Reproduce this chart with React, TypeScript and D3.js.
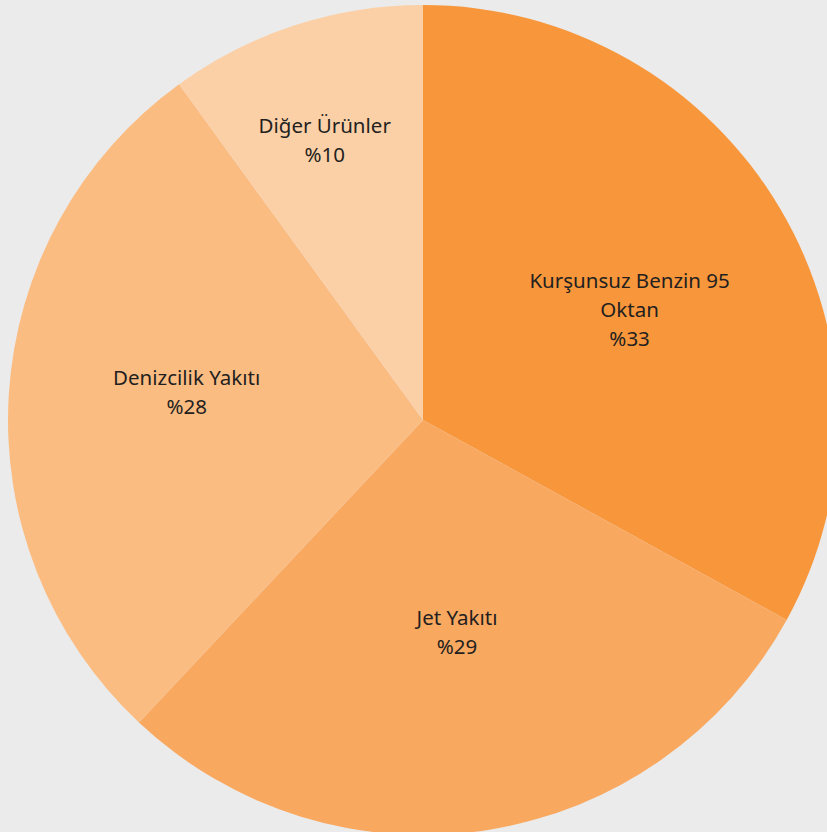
import React from "react";
import * as d3 from "d3";

const categories = ["Kurşunsuz Benzin 95 Oktan", "Jet Yakıtı", "Denizcilik Yakıtı", "Diğer Ürünler"];
const labelLines = [["Kurşunsuz Benzin 95", "Oktan", "%33"], ["Jet Yakıtı", "%29"], ["Denizcilik Yakıtı", "%28"], ["Diğer Ürünler", "%10"]];
const values = [33, 29, 28, 10];
const colors = ["#f7963a", "#f9a860", "#fbbc82", "#fcd0a7"];
const labelRadius = [234, 215, 238, 296];
const labelAngleOffset = [2.6, -0.1, 3.1, -1.4];

export default function App() {
  const W = 827, H = 832;
  const cx = 423, cy = 420, r = 415;
  const pie = d3.pie<number>().sort(null).value((d) => d)(values);
  const arc = d3.arc<d3.PieArcDatum<number>>().innerRadius(0).outerRadius(r);
  const lh = 29;
  return (
    <svg width={W} height={H} style={{ position: "absolute", left: 0, top: 0, background: "#ebebeb" }}>
      <rect width={W} height={H} fill="#ebebeb" />
      <g transform={`translate(${cx},${cy})`}>
        {pie.map((p, i) => (
          <path key={categories[i]} d={arc(p) || ""} fill={colors[i]} />
        ))}
        {pie.map((p, i) => {
          const a = (p.startAngle + p.endAngle) / 2 + (labelAngleOffset[i] * Math.PI) / 180;
          const x = Math.sin(a) * labelRadius[i];
          const y = -Math.cos(a) * labelRadius[i];
          const lines = labelLines[i];
          const y0 = y - ((lines.length - 1) * lh) / 2;
          return (
            <text key={"t" + i} textAnchor="middle" fontFamily="'Noto Sans', sans-serif" fontSize={20.5} fill="#231f20">
              {lines.map((l, j) => (
                <tspan key={j} x={x} y={y0 + j * lh} dy="0.35em">{l}</tspan>
              ))}
            </text>
          );
        })}
      </g>
    </svg>
  );
}
